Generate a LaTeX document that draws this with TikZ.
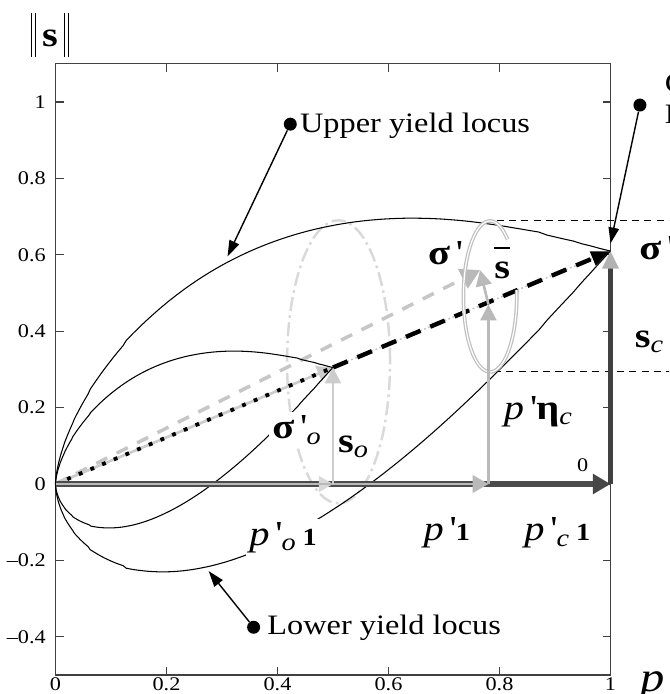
\documentclass[tikz,border=0pt]{standalone}
\usepackage{fontspec}
\setmainfont{Liberation Serif}[FakeStretch=1.15, UprightFont={Liberation Serif}, BoldFont={Liberation Serif Bold}, ItalicFont={Liberation Serif Italic}, BoldItalicFont={Liberation Serif Bold Italic}]
\usepackage{amsmath}
\usetikzlibrary{arrows.meta}

\newcommand{\pr}{\textquotesingle}
\newcommand{\nbar}{\rule[-6pt]{0.7pt}{25pt}\hspace{1.8pt}\rule[-6pt]{0.7pt}{25pt}}

\begin{document}
\begin{tikzpicture}[
    x=11.1cm, y=7.64cm,
    plotframe/.style={line width=0.6pt, black!75},
    locus/.style={line width=0.6pt, black},
    lab/.style={font=\fontsize{20}{22}\selectfont, inner sep=1pt},
    labw/.style={lab, fill=white, inner sep=2pt},
    ticklab/.style={font=\fontsize{11}{12}\selectfont, inner sep=0pt},
    note/.style={font=\fontsize{16}{18}\selectfont, inner sep=1pt},
    blob/.style={circle, fill=black, inner sep=0pt, minimum size=0.26cm},
    callout/.style={-{Triangle[length=9pt,width=6pt]}, line width=0.8pt},
    bigaxis/.style={-{Triangle[length=10pt,width=11pt,color=gray!55!black]}, line width=3pt, black!70},
    bigvert/.style={-{Triangle[length=10pt,width=9pt,color=gray!60]}, line width=2.5pt, black!75},
    garrow/.style={-{Triangle[length=9pt,width=9pt]}, line width=1.5pt},
    surface/.style={draw=gray!50, line width=0.7pt, double=white, double distance=0.7pt},
    outersurface/.style={draw=gray!30, line width=1.4pt, dash pattern=on 8pt off 2.5pt on 1.5pt off 2.5pt},
    guide/.style={line width=0.5pt, dash pattern=on 4pt off 3pt}
  ]
    \useasboundingbox (-0.1,-0.5497) rectangle (1.1054,1.267);
    \clip (-0.1,-0.5497) rectangle (1.1054,1.267);

    \coordinate (O) at (0,0);
    \coordinate (po) at (0.5,0);
    \coordinate (p) at (0.78,0);
    \coordinate (pc) at (1,0);
    \coordinate (sigo) at (0.5,0.305);
    \coordinate (sigc) at (1,0.61);
    \coordinate (peta) at (0.78,0.47);
    \coordinate (sig) at (0.765,0.56);

    \draw[plotframe] (0,-0.5) rectangle (1,1.1);
    \foreach \v/\t in {-0.4/{\textendash0.4}, -0.2/{\textendash0.2}, 0/0, 0.2/0.2, 0.4/0.4, 0.6/0.6, 0.8/0.8, 1/1} {
      \draw[plotframe] (0,\v) -- ++(0.16cm,0);
      \draw[plotframe] (1,\v) -- ++(-0.16cm,0);
      \node[ticklab, anchor=east] at (-0.017,\v) {\t};
    }
    \foreach \u in {0.2,0.4,0.6,0.8} {
      \draw[plotframe] (\u,1.1) -- ++(0,-0.16cm);
      \draw[plotframe] (\u,-0.5) -- ++(0,0.16cm);
    }
    \foreach \u in {0,0.2,0.4,0.6,0.8,1} {
      \node[ticklab, anchor=north] at (\u,-0.507) {\u};
    }

    \draw[guide] (0.795,0.69) -- (1.11,0.69);
    \draw[guide] (0.79,0.295) -- (1.11,0.295);

    \draw[outersurface] (0.51,0.32) ellipse [x radius=1.03cm, y radius=2.83cm];

    \draw[gray!50, line width=0.8pt, dash pattern=on 1pt off 1.5pt] (O) -- (sigc);
    \draw[gray!45, line width=2pt, dash pattern=on 7pt off 6pt,
      -{Triangle[length=11pt,width=12pt,color=gray!55]}] (O) -- (sig);
    \draw[gray!40, garrow] (O) -- (sigo);
    \draw[black, line width=2.2pt, dash pattern=on 2.2pt off 5pt] (O) -- (sigo);
    \draw[black, line width=2.5pt, dash pattern=on 9pt off 6pt,
      -{Triangle[length=11pt,width=8pt]}] (sigo) -- (sigc);

    \foreach \f in {1,0.5} {
      \begin{scope}[scale=\f]
        \draw[locus] (0,0) -- plot[domain=0.02:0.9997, samples=120, variable=\t]
          ({\t*\t}, {0.61*\t*\t + 1.167*(\t*\t)^0.6*(1-\t*\t)^1.05}) -- (1,0.61);
        \draw[locus] (0,0) -- plot[domain=0.02:0.9997, samples=120, variable=\t]
          ({\t*\t}, {0.61*\t*\t - 1.167*(\t*\t)^0.6*(1-\t*\t)^1.05}) -- (1,0.61);
      \end{scope}
    }

    \draw[surface] ([shift={(49:0.533cm and 1.51cm)}]0.783,0.491) arc[start angle=49, end angle=365, x radius=0.533cm, y radius=1.51cm];

    \draw[bigaxis] (O) -- (pc);
    \draw[gray!30, line width=1.2pt, -{Triangle[length=8pt,width=9pt]}] (O) -- (po);
    \draw[gray!55, line width=1.2pt, -{Triangle[length=9pt,width=10pt]}] (O) -- (p);
    \draw[bigvert] (pc) -- (sigc);
    \draw[gray!40, garrow] (po) -- (sigo);
    \draw[gray!55, garrow] (p) -- (peta);
    \draw[gray!55, garrow] (peta) -- (sig);

    \node[blob] (updot) at (0.423,0.942) {};
    \node[note, anchor=base west] (uptext) at (0.437,0.921) {Upper yield locus};
    \node[blob] (lowdot) at (0.357,-0.375) {};
    \node[note, anchor=base west] (lowtext) at (0.378,-0.395) {Lower yield locus};
    \node[blob] (rdot) at (1.053,0.992) {};
    \node[note, anchor=base west] (rtop) at (1.094,1.026) {C};
    \node[note, anchor=base west] (rbot) at (1.094,0.945) {H};
    \coordinate (uptip) at (0.31,0.596);
    \coordinate (lowtip) at (0.276,-0.228);
    \coordinate (rtip) at (1,0.63);
    \draw[callout] (updot) -- (uptip);
    \draw[callout] (lowdot) -- (lowtip);
    \draw[callout] (rdot) -- (rtip);

    \node[lab] (normlab) at (-0.01,1.175) {\nbar\,\textbf{s}\,\nbar};
    \node[lab] (siglab) at (0.702,0.605) {\textbf{σ}\,\pr};
    \node[lab] (sbarlab) at (0.805,0.58) {$\overline{\textbf{s}\vphantom{l}}$};
    \node[lab] (etalab) at (0.87,0.19) {\textit{p}\,\pr\textbf{η}\textsubscript{\textit{c}}};
    \node[labw] (sigolab) at (0.435,0.141) {\textbf{σ}\,\pr\textsubscript{\textit{o}}};
    \node[lab] (solab) at (0.537,0.097) {\textbf{s}\textsubscript{\textit{o}}};
    \node[labw] (polab) at (0.41,-0.14) {\textit{p}\,\pr\textsubscript{\textit{o}}\,{\fontsize{14}{16}\selectfont\textbf{1}}};
    \node[lab] (plab) at (0.705,-0.128) {\textit{p}\,\pr{\fontsize{14}{16}\selectfont\textbf{1}}};
    \node[lab] (pclab) at (0.904,-0.128) {\textit{p}\,\pr\textsubscript{\textit{c}}\,{\fontsize{14}{16}\selectfont\textbf{1}}};
    \node[ticklab] (zerolab) at (0.95,0.05) {0};
    \node[lab, anchor=west] (sclab) at (1.04,0.372) {\textbf{s}\textsubscript{\textit{c}}};
    \node[lab, anchor=west] (sigclab) at (1.048,0.61) {\textbf{σ}\,\pr\textsubscript{\textit{c}}};
    \node[lab, anchor=west, font=\fontsize{24}{26}\selectfont] (paxis) at (1.05,-0.52) {\textit{p}\,\pr};
  \end{tikzpicture}
\end{document}
